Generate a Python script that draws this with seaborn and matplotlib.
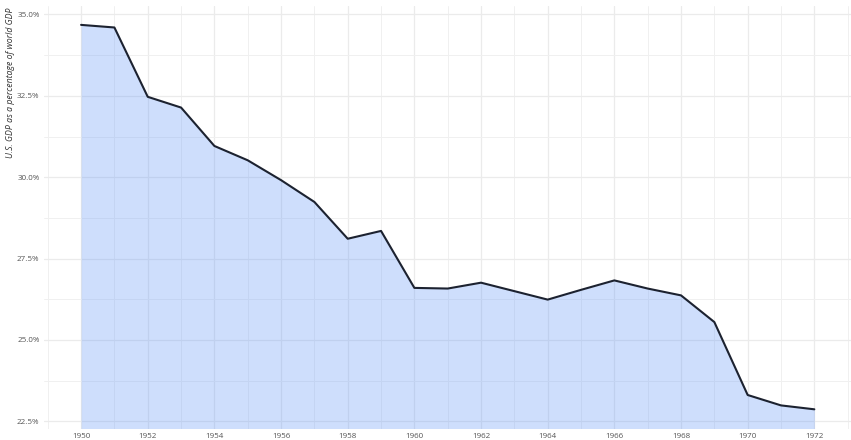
import matplotlib
matplotlib.use("Agg")
import matplotlib.pyplot as plt
import seaborn as sns
import pandas as pd
import numpy as np
from matplotlib.ticker import MultipleLocator, FuncFormatter

years = list(range(1950, 1973))
us_share = [34.68, 34.60, 32.47, 32.14, 30.96, 30.52, 29.91, 29.24, 28.11, 28.35,
            26.60, 26.58, 26.76, 26.50, 26.24, 26.54, 26.83, 26.58, 26.37, 25.55,
            23.31, 22.99, 22.87]
y_ticks = [22.5, 25.0, 27.5, 30.0, 32.5, 35.0]
x_ticks = list(range(1950, 1973, 2))
y_label = "U.S. GDP as a percentage of world GDP"

df = pd.DataFrame({"year": years, "share": us_share})

sns.set_theme(style="white")
plt.rcParams["font.family"] = ["Open Sans", "DejaVu Sans"]

fig = plt.figure(figsize=(8.51, 4.40), dpi=100)
ax = fig.add_axes([0.0522, 0.0261, 0.9478, 0.961])

ymin, ymax = 22.28, 35.27
ax.set_xlim(1948.9, 1973.1)
ax.set_ylim(ymin, ymax)

ax.fill_between(df["year"], ymin, df["share"], color="#5f94f8", alpha=0.3,
                linewidth=0, zorder=2)
sns.lineplot(data=df, x="year", y="share", ax=ax, color="#1c2230",
             linewidth=1.5, zorder=3)

ax.set_xticks(x_ticks)
ax.set_xticklabels([str(x) for x in x_ticks])
ax.set_yticks(y_ticks)
ax.set_yticklabels([f"{v:.1f}%" for v in y_ticks])
ax.xaxis.set_minor_locator(MultipleLocator(1))
ax.yaxis.set_minor_locator(MultipleLocator(1.25))

ax.grid(True, which="major", color="#ebebeb", linewidth=0.9, zorder=1)
ax.grid(True, which="minor", color="#f0f0f0", linewidth=0.7, zorder=1)
ax.set_axisbelow(True)
for s in ax.spines.values():
    s.set_visible(False)

ax.tick_params(axis="both", which="major", length=2.5, width=0.7, color="#555555",
               labelsize=5.8, labelcolor="#555555", pad=1.0)
ax.tick_params(axis="both", which="minor", length=0)

ax.set_xlabel("")
ax.set_ylabel(y_label, fontsize=6.3, style="italic", color="#333333", loc="top")
ax.yaxis.set_label_coords(-0.037, 0.995)

fig.savefig("out.png", dpi=100, facecolor="white")
